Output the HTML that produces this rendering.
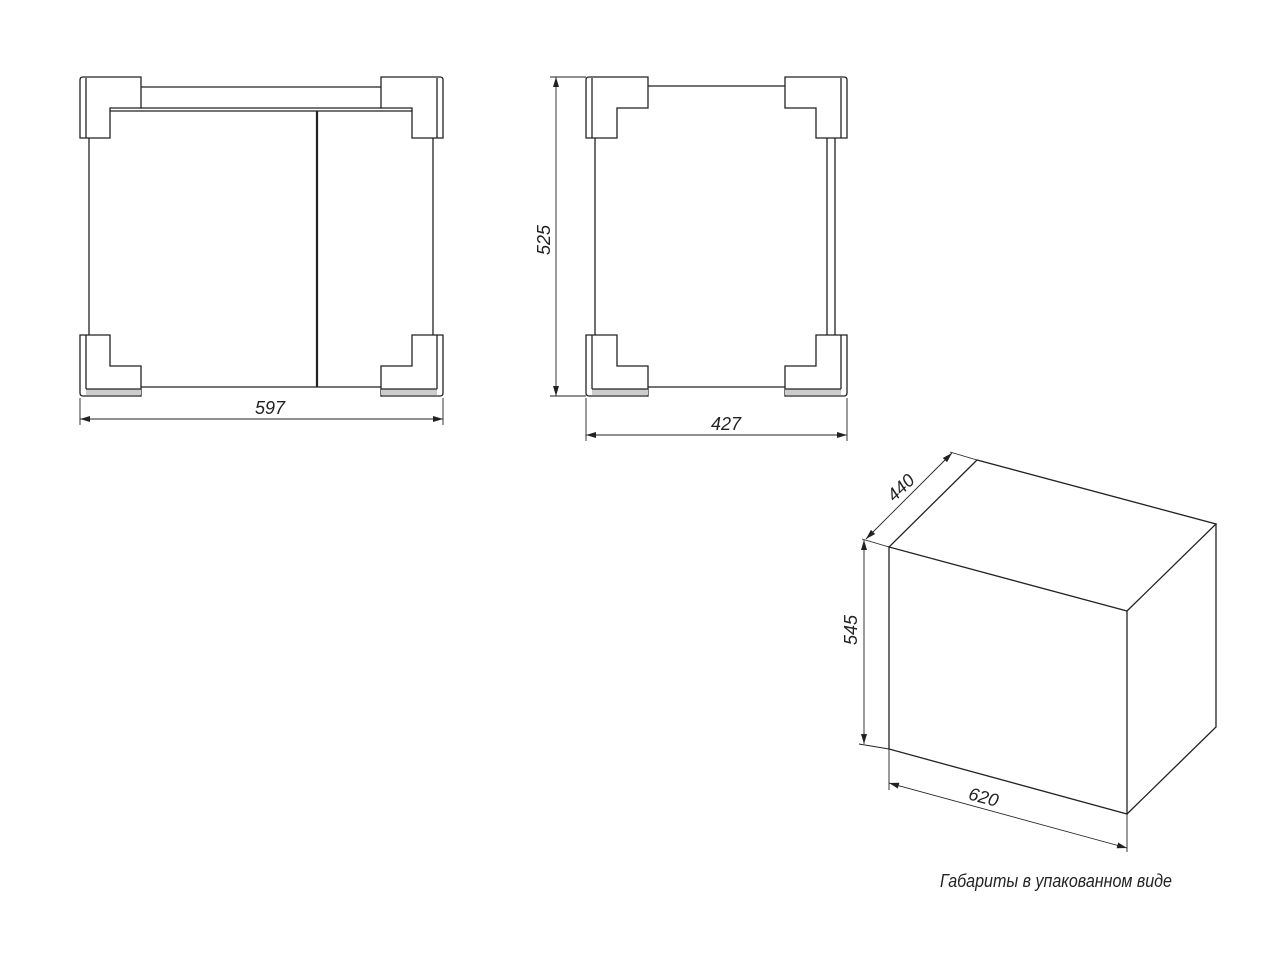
<!DOCTYPE html>
<html><head><meta charset="utf-8"><style>
html,body{margin:0;padding:0;background:#fff;}
svg{display:block}
text{font-family:"Liberation Sans","DejaVu Sans",sans-serif;font-style:italic;fill:#222;}
</style></head><body>
<svg width="1280" height="960" viewBox="0 0 1280 960" xmlns="http://www.w3.org/2000/svg">
<defs>
<marker id="ar" viewBox="0 0 10 6" refX="10" refY="3" markerWidth="10" markerHeight="6" orient="auto-start-reverse" markerUnits="userSpaceOnUse">
<path d="M0,0 L10,3 L0,6 z" fill="#222"/></marker>
</defs>
<g fill="none" stroke="#222" stroke-width="1.3">
<!-- LEFT VIEW -->
<line x1="141" y1="87" x2="381" y2="87"/>
<line x1="141" y1="108" x2="381" y2="108"/>
<rect x="89" y="111" width="344" height="276" fill="#fff" stroke="none"/>
<line x1="110" y1="111" x2="412" y2="111"/>
<line x1="89" y1="138" x2="89" y2="335"/>
<line x1="433" y1="138" x2="433" y2="335"/>
<line x1="141" y1="387" x2="381" y2="387"/>
<line x1="317" y1="111" x2="317" y2="387" stroke-width="2.2"/>
<path d="M83,77 H141 V108 H110 V138 H80 V80 Q80,77 83,77 Z" fill="#fff"/>
<line x1="86" y1="78" x2="86" y2="138"/>
<path d="M381,77 H440 Q443,77 443,80 V138 H412 V108 H381 Z" fill="#fff"/>
<line x1="437" y1="78" x2="437" y2="138"/>
<path d="M80,335 H110 V366 H141 V396 H83 Q80,396 80,393 Z" fill="#fff"/>
<line x1="86" y1="335" x2="86" y2="389"/>
<rect x="86" y="389" width="55" height="6" fill="#ccc" stroke="none"/>
<line x1="86" y1="389" x2="141" y2="389"/>
<path d="M412,335 H443 V393 Q443,396 440,396 H381 V366 H412 Z" fill="#fff"/>
<line x1="437" y1="335" x2="437" y2="389"/>
<rect x="381" y="389" width="56" height="6" fill="#ccc" stroke="none"/>
<line x1="381" y1="389" x2="437" y2="389"/>
<g stroke-width="0.9">
<line x1="80" y1="398" x2="80" y2="425"/>
<line x1="443" y1="398" x2="443" y2="425"/>
<line x1="80" y1="419" x2="443" y2="419" marker-start="url(#ar)" marker-end="url(#ar)"/>
</g>

<!-- RIGHT VIEW -->
<line x1="648" y1="86" x2="785" y2="86"/>
<line x1="595" y1="138" x2="595" y2="335"/>
<line x1="827" y1="138" x2="827" y2="335"/>
<line x1="835" y1="138" x2="835" y2="335"/>
<line x1="648" y1="387" x2="785" y2="387"/>
<path d="M589,77 H648 V108 H617 V138 H586 V80 Q586,77 589,77 Z" fill="#fff"/>
<line x1="592" y1="78" x2="592" y2="138"/>
<path d="M785,77 H844 Q847,77 847,80 V138 H816 V108 H785 Z" fill="#fff"/>
<line x1="841" y1="78" x2="841" y2="138"/>
<path d="M586,335 H617 V366 H648 V396 H589 Q586,396 586,393 Z" fill="#fff"/>
<line x1="592" y1="335" x2="592" y2="389"/>
<rect x="592" y="389" width="56" height="6" fill="#ccc" stroke="none"/>
<line x1="592" y1="389" x2="648" y2="389"/>
<path d="M816,335 H847 V393 Q847,396 844,396 H785 V366 H816 Z" fill="#fff"/>
<line x1="841" y1="335" x2="841" y2="389"/>
<rect x="785" y="389" width="56" height="6" fill="#ccc" stroke="none"/>
<line x1="785" y1="389" x2="841" y2="389"/>
<g stroke-width="0.9">
<line x1="550" y1="77" x2="586" y2="77"/>
<line x1="550" y1="396" x2="586" y2="396"/>
<line x1="556" y1="77" x2="556" y2="396" marker-start="url(#ar)" marker-end="url(#ar)"/>
<line x1="586" y1="398" x2="586" y2="441"/>
<line x1="847" y1="398" x2="847" y2="441"/>
<line x1="586" y1="435" x2="847" y2="435" marker-start="url(#ar)" marker-end="url(#ar)"/>
</g>

<!-- ISO BOX -->
<path d="M889,547 L1127,611 L1127,814 L889,749 Z"/>
<path d="M889,547 L977,460 L1216,524 L1127,611"/>
<path d="M1216,524 L1216,727 L1127,814"/>
<g stroke-width="0.9">
<line x1="889" y1="547" x2="862" y2="539"/>
<line x1="977" y1="460" x2="950" y2="452"/>
<line x1="866" y1="539" x2="952" y2="453" marker-start="url(#ar)" marker-end="url(#ar)"/>
<line x1="889" y1="749" x2="859" y2="744"/>
<line x1="864" y1="540" x2="864" y2="744" marker-start="url(#ar)" marker-end="url(#ar)"/>
<line x1="889" y1="749" x2="889" y2="790"/>
<line x1="1127" y1="814" x2="1127" y2="852"/>
<line x1="889" y1="783" x2="1127" y2="848" marker-start="url(#ar)" marker-end="url(#ar)"/>
</g>
</g>
<text x="270" y="414" font-size="18" text-anchor="middle">597</text>
<text x="726" y="430" font-size="18" text-anchor="middle">427</text>
<text transform="translate(550,240) rotate(-90)" font-size="18" text-anchor="middle">525</text>
<text transform="translate(905,492) rotate(-44)" font-size="18" text-anchor="middle">440</text>
<text transform="translate(857,630) rotate(-90)" font-size="18" text-anchor="middle">545</text>
<text transform="translate(982,803) rotate(15)" font-size="18" text-anchor="middle">620</text>
<text x="940" y="887" font-size="18" textLength="232" lengthAdjust="spacingAndGlyphs">Габариты в упакованном виде</text>
</svg>
</body></html>
